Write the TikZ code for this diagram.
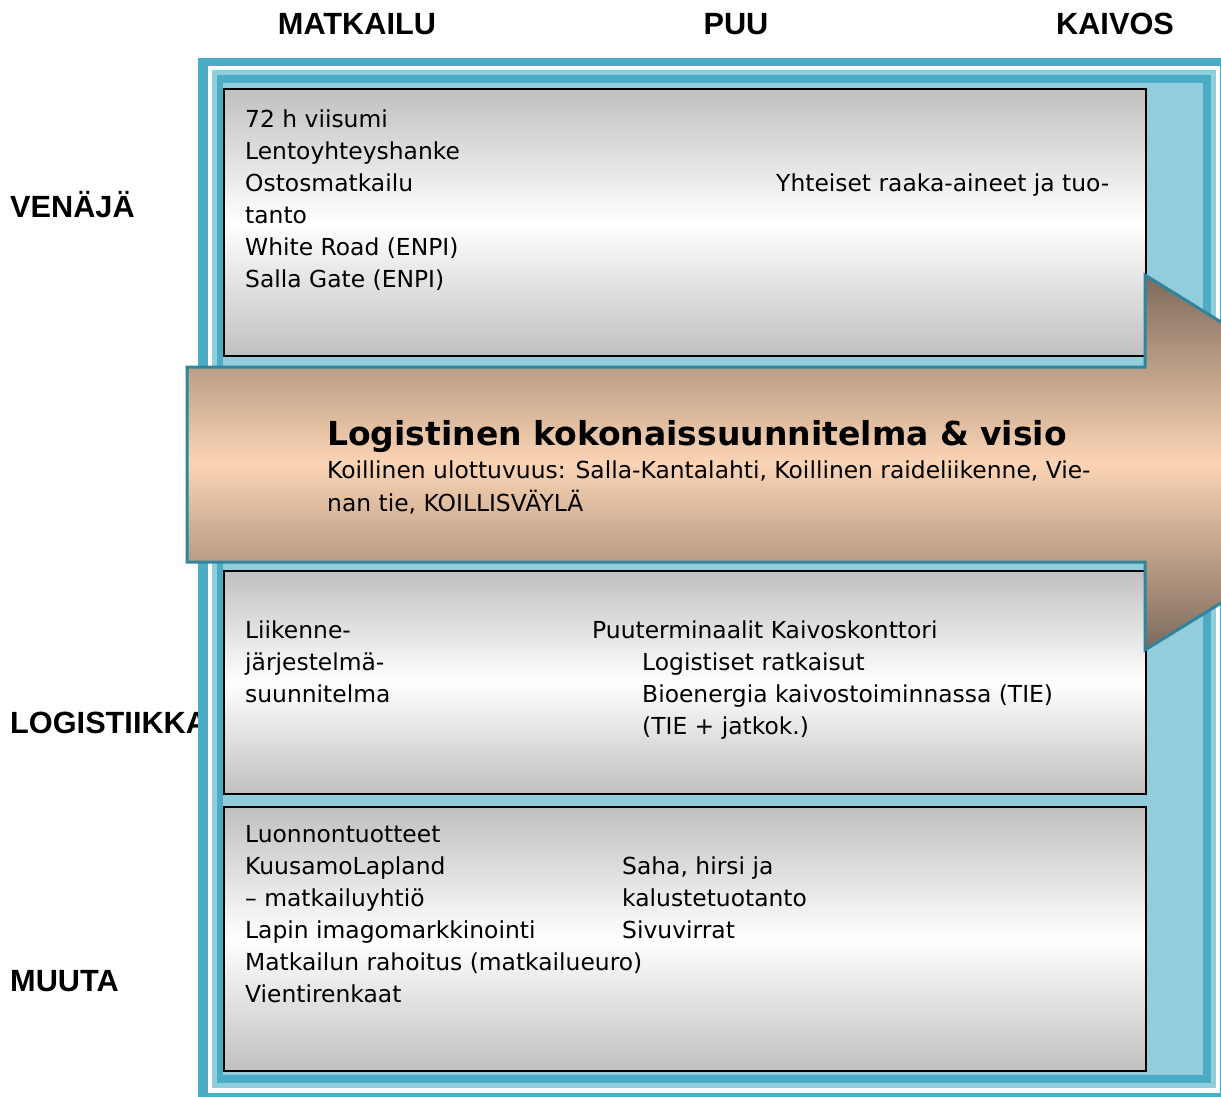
\documentclass[tikz,border=0pt]{standalone}
\usepackage{fontspec}
\setmainfont{DejaVu Sans}
\newfontfamily\headfont{Liberation Sans}
\usepackage{tikz}

\definecolor{frameteal}{HTML}{4BACC6}
\definecolor{framelight}{HTML}{92CDDC}
\definecolor{arrowedge}{HTML}{31849B}
\definecolor{arrowdark}{HTML}{7D6A5B}
\definecolor{arrowpeach}{HTML}{FBD4B4}
\definecolor{boxgray}{HTML}{C0C0C0}

\begin{document}
\begin{tikzpicture}[x=1pt,y=-1pt,
    graybox/.style={draw=black, line width=2pt, top color=boxgray, bottom color=boxgray,
        middle color=white, anchor=north west, inner sep=0pt, minimum width=922pt},
    bodytext/.style={anchor=base west, align=left, inner sep=0pt,
        font=\fontsize{23.4}{32}\selectfont},
    headtext/.style={inner sep=0pt, font=\headfont\bfseries\fontsize{30.7}{36}\selectfont},
    rowlabel/.style={headtext, anchor=base west}]
        \useasboundingbox (0,0) rectangle (1221,1097);
        \clip (0,0) rectangle (1221,1097);

        % Column headings
        \node[headtext] (matkailu) at (357,24) {MATKAILU};
        \node[headtext] (puu) at (736,24) {PUU};
        \node[headtext] (kaivos) at (1115,24) {KAIVOS};

        % Row headings (the frame covers the end of LOGISTIIKKA)
        \node[rowlabel] (venaja) at (10,217) {VENÄJÄ};
        \node[rowlabel] (logistiikka) at (10,733) {LOGISTIIKKA};
        \node[rowlabel] (muuta) at (10,991) {MUUTA};

        % Draw the frame
        \fill[frameteal] (198,58) rectangle (1230,1101);
        \fill[white] (208,66) rectangle (1220,1093);
        \fill[framelight] (212,70) rectangle (1216,1088);
        \fill[frameteal] (217,75) rectangle (1211,1083);
        \fill[framelight] (223,83) rectangle (1203,1075);

        % Draw the three boxes
        \node[graybox, minimum height=267pt] (venajabox) at (223,88) {};
        \node[graybox, minimum height=223pt] (logbox) at (223,570) {};
        \node[graybox, minimum height=264pt] (muutabox) at (223,806) {};

        % Draw the big arrow
        \shade[top color=arrowdark, bottom color=arrowdark, middle color=arrowpeach,
            draw=arrowedge, line width=3pt, line join=miter]
            (187,367) -- (1145,367) -- (1145,275) -- (1448,462.5) -- (1145,650)
            -- (1145,562) -- (187,562) -- cycle;

        % Texts in the arrow (multi-line texts sit on their last baseline)
        \node[anchor=base west, inner sep=0pt, font=\bfseries\fontsize{33}{38}\selectfont]
            (logtitle) at (327,445) {Logistinen kokonaissuunnitelma \& visio};
        \node[bodytext, font=\fontsize{23.4}{33}\selectfont] (logsub) at (327,511)
            {Koillinen ulottuvuus: Salla-Kantalahti, Koillinen raideliikenne, Vie-\\nan tie, KOILLISVÄYLÄ};

        % Texts in the top box
        \node[bodytext] (venajatxt) at (245,287)
            {72 h viisumi\\Lentoyhteyshanke\\Ostosmatkailu\\tanto\\White Road (ENPI)\\Salla Gate (ENPI)};
        \node[bodytext] (raaka) at (776,191) {Yhteiset raaka-aineet ja tuo-};

        % Texts in the middle box
        \node[bodytext] (liikenne) at (245,702) {Liikenne-\\järjestelmä-\\suunnitelma};
        \node[bodytext] (terminaalit) at (592,638) {Puuterminaalit Kaivoskonttori};
        \node[bodytext] (ratkaisut) at (642,734)
            {Logistiset ratkaisut\\Bioenergia kaivostoiminnassa (TIE)\\(TIE + jatkok.)};

        % Texts in the bottom box
        \node[bodytext] (muutatxt) at (245,1002)
            {Luonnontuotteet\\KuusamoLapland\\– matkailuyhtiö\\Lapin imagomarkkinointi\\Matkailun rahoitus (matkailueuro)\\Vientirenkaat};
        \node[bodytext] (saha) at (622,938) {Saha, hirsi ja\\kalustetuotanto\\Sivuvirrat};
    \end{tikzpicture}
\end{document}
